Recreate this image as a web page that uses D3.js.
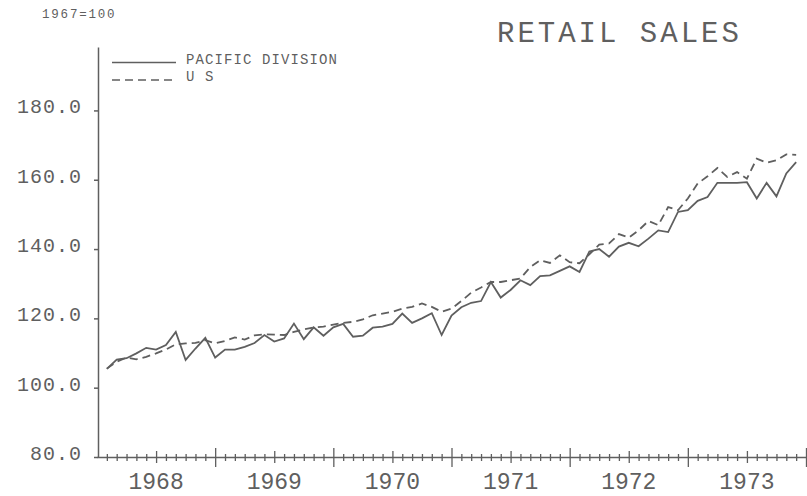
<!DOCTYPE html>
<html>
<head>
<meta charset="utf-8">
<script src="https://cdn.jsdelivr.net/npm/d3@7"></script>
<style>
  body { margin: 0; background: #fff; }
  text { font-family: "Liberation Mono", "DejaVu Sans Mono", monospace; fill: #5f5f5f; }
</style>
</head>
<body>
<div id="chart"></div>
<script>
var width = 807;
var height = 496;

// year labels, y ticks and monthly index values (1967=100)
var years = ['1968', '1969', '1970', '1971', '1972', '1973'];
var yTicks = [80, 100, 120, 140, 160, 180];

var pacific = [
  105.4, 108.1, 108.5, 109.9, 111.5, 111.0, 112.3, 116.1, 108.0, 111.3, 114.4, 108.7,
  111.0, 111.0, 111.8, 112.9, 115.2, 113.3, 114.2, 118.5, 114.0, 117.4, 115.0, 117.4,
  118.4, 114.7, 115.0, 117.3, 117.6, 118.4, 121.4, 118.7, 120.0, 121.5, 115.2, 120.8,
  123.2, 124.5, 125.0, 130.5, 126.0, 128.2, 131.0, 129.6, 132.2, 132.4, 133.7, 135.0,
  133.4, 139.3, 140.0, 137.8, 140.7, 141.8, 140.8, 143.0, 145.4, 144.9, 150.7, 151.2,
  153.9, 155.0, 159.1, 159.1, 159.1, 159.3, 154.6, 159.1, 155.2, 161.8, 165.1
];

var us = [
  105.5, 107.5, 108.7, 108.2, 108.9, 109.9, 111.0, 112.5, 112.8, 112.9, 113.7, 112.8,
  113.5, 114.5, 113.9, 115.1, 115.4, 115.3, 115.2, 116.1, 116.8, 117.4, 117.6, 118.2,
  118.7, 119.0, 119.7, 120.9, 121.4, 121.9, 122.8, 123.3, 124.3, 123.3, 121.9, 122.8,
  125.0, 127.4, 128.9, 130.5, 130.5, 131.0, 131.5, 134.8, 136.8, 136.0, 138.2, 136.2,
  135.9, 138.5, 141.3, 141.6, 144.3, 143.3, 145.4, 148.1, 146.9, 152.1, 151.2, 154.6,
  158.9, 161.0, 163.4, 160.8, 162.2, 160.3, 166.1, 164.9, 165.6, 167.3, 167.2
];

var ink = '#5f5f5f';

var svg = d3.select('#chart')
  .append('svg')
  .attr('width', width)
  .attr('height', height);

// months since start of 1968
var x = d3.scaleLinear().domain([0, 72]).range([97, 806]);
var y = d3.scaleLinear().domain([80, 198.3]).range([457, 47]);

// y axis
var yAxis = svg.append('g')
  .attr('transform', 'translate(98,0)')
  .call(d3.axisLeft(y)
    .tickValues(yTicks)
    .tickFormat(d3.format('.1f'))
    .tickSize(4)
    .tickSizeOuter(0)
    .tickPadding(12));
yAxis.select('.domain').attr('stroke', ink).attr('stroke-width', 1.5);
yAxis.selectAll('.tick line').attr('stroke', ink).attr('stroke-width', 1.5);
yAxis.selectAll('.tick text')
  .attr('font-size', 20)
  .attr('letter-spacing', 1)
  .attr('dy', '0.12em');

// x axis with monthly ticks
var months = d3.range(1, 73);
var xAxis = svg.append('g')
  .attr('transform', 'translate(0,457)')
  .call(d3.axisBottom(x)
    .tickValues(months)
    .tickFormat('')
    .tickSizeOuter(0));
xAxis.select('.domain').attr('stroke', ink).attr('stroke-width', 1.5);
xAxis.selectAll('.tick line')
  .attr('stroke', ink)
  .attr('stroke-width', 1.3)
  .attr('y1', function(d) { return d % 12 == 0 ? -9 : (d % 12 == 6 ? -6 : -3); })
  .attr('y2', function(d) { return d % 12 == 0 ? 10 : (d % 12 == 6 ? 6 : 4); });

// year labels centred on each year
svg.append('g')
  .selectAll('text')
  .data(years)
  .enter()
  .append('text')
  .attr('x', function(d, i) { return x(i * 12 + 6); })
  .attr('y', 489)
  .attr('text-anchor', 'middle')
  .attr('font-size', 23)
  .text(function(d) { return d; });

// lines
var line = d3.line()
  .x(function(d, i) { return x(i + 1); })
  .y(function(d) { return y(d); });

svg.append('path')
  .datum(us)
  .attr('fill', 'none')
  .attr('stroke', ink)
  .attr('stroke-width', 1.8)
  .attr('stroke-dasharray', '8,5')
  .attr('d', line);

svg.append('path')
  .datum(pacific)
  .attr('fill', 'none')
  .attr('stroke', ink)
  .attr('stroke-width', 1.8)
  .attr('d', line);

// legend
var legend = svg.append('g');
legend.append('line')
  .attr('x1', 112).attr('x2', 176).attr('y1', 62.5).attr('y2', 62.5)
  .attr('stroke', ink).attr('stroke-width', 1.5);
legend.append('line')
  .attr('x1', 112).attr('x2', 176).attr('y1', 80).attr('y2', 80)
  .attr('stroke', ink).attr('stroke-width', 1.5)
  .attr('stroke-dasharray', '8,5');
legend.append('text')
  .attr('x', 186).attr('y', 63.5)
  .attr('font-size', 14)
  .attr('letter-spacing', 1.1)
  .text('PACIFIC DIVISION');
legend.append('text')
  .attr('x', 186).attr('y', 80.5)
  .attr('font-size', 14)
  .attr('letter-spacing', 1.1)
  .text('U S');

// header texts
svg.append('text')
  .attr('x', 42).attr('y', 18)
  .attr('font-size', 12.5)
  .attr('letter-spacing', 1.8)
  .text('1967=100');

svg.append('text')
  .attr('x', 497).attr('y', 41.5)
  .attr('font-size', 29)
  .attr('letter-spacing', 3)
  .text('RETAIL SALES');
</script>
</body>
</html>
